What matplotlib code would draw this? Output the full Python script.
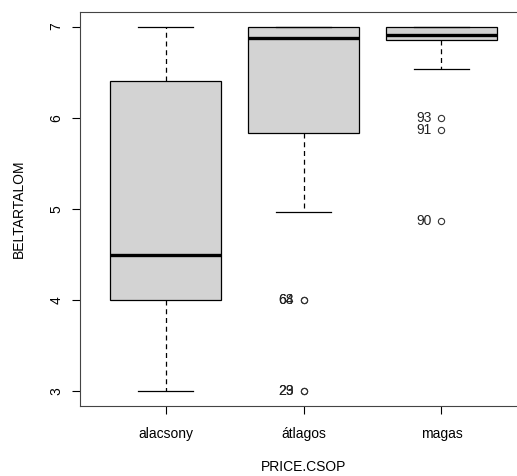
import matplotlib
matplotlib.use('Agg')
import matplotlib.pyplot as plt

# Box statistics
groups = ["alacsony", "átlagos", "magas"]
whislo = [3.0, 4.97, 6.53]
q1 = [4.0, 5.83, 6.85]
medians = [4.5, 6.88, 6.91]
q3 = [6.4, 7.0, 7.0]
whishi = [7.0, 7.0, 7.0]
outliers = [[], [4.0, 4.0, 3.0, 3.0], [6.0, 5.87, 4.87]]
outlier_ids = [[], ["64", "68", "23", "29"], ["93", "91", "90"]]

plt.rcParams['font.family'] = ['Liberation Sans', 'DejaVu Sans']

fig = plt.figure(figsize=(5.17, 4.76), dpi=100)
# the right edge of the plot region runs past the picture (cropped like the original)
ax = fig.add_axes([80 / 517, 70 / 476, 447 / 517, 394 / 476])

stats = []
for i, name in enumerate(groups):
    stats.append(dict(label=name, whislo=whislo[i], q1=q1[i], med=medians[i],
                      q3=q3[i], whishi=whishi[i], fliers=outliers[i]))

ax.bxp(stats, positions=[1, 2, 3], widths=0.8, patch_artist=True,
       boxprops=dict(facecolor='#D3D3D3', edgecolor='black', linewidth=0.9),
       medianprops=dict(color='black', linewidth=2.4),
       whiskerprops=dict(color='black', linewidth=0.9, linestyle=(0, (4, 3))),
       capprops=dict(color='black', linewidth=0.9),
       capwidths=0.4,
       flierprops=dict(marker='o', markersize=4.5, markerfacecolor='none',
                       markeredgecolor='#333333', markeredgewidth=0.8))

# outlier labels, left of the points
for i in range(len(groups)):
    for v, lab in zip(outliers[i], outlier_ids[i]):
        ax.annotate(lab, (i + 1, v), xytext=(-7, 0), textcoords='offset points',
                    ha='right', va='center', fontsize=10, color='#222222')

ax.set_xlim(0.38, 3.62)
ax.set_ylim(2.84, 7.16)
ax.set_yticks([3, 4, 5, 6, 7])
ax.set_yticklabels(["3", "4", "5", "6", "7"], rotation=90, va='center')
ax.tick_params(axis='both', direction='out', length=6, width=0.8,
               labelsize=10, colors='black', pad=6)
ax.tick_params(axis='x', pad=9)
for s in ax.spines.values():
    s.set_linewidth(0.8)
    s.set_color('#444444')

ax.set_xlabel("PRICE.CSOP", fontsize=10, labelpad=14)
ax.set_ylabel("BELTARTALOM", fontsize=10, labelpad=17)

fig.savefig("out.png", dpi=100)
